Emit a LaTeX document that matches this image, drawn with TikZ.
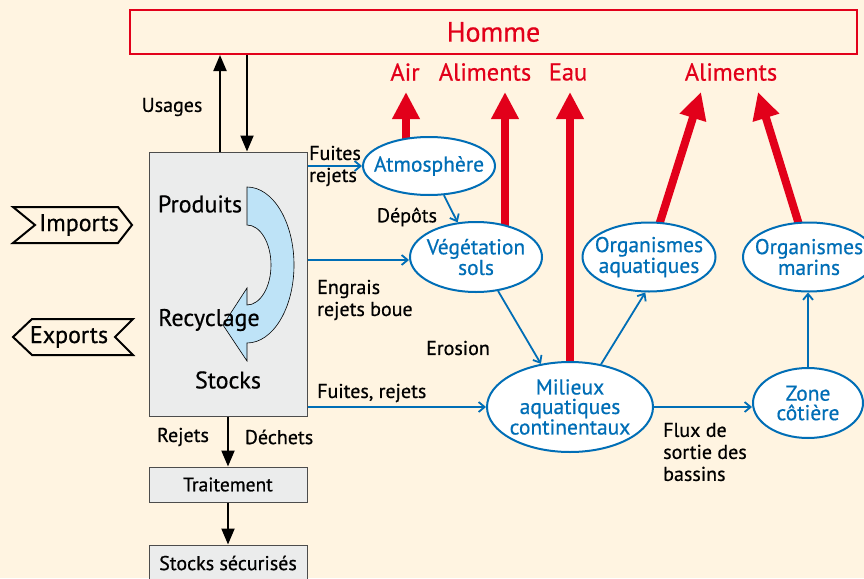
\documentclass[tikz,border=0pt]{standalone}
\usepackage{fontspec}
\setmainfont{PT Sans}[FakeBold=0.6]
\usetikzlibrary{arrows.meta,calc,shapes.geometric}
\definecolor{bgc}{RGB}{255,244,225}
\definecolor{redC}{RGB}{226,0,26}
\definecolor{blueC}{RGB}{0,110,182}
\definecolor{greyC}{RGB}{235,236,236}
\definecolor{lblue}{RGB}{190,227,247}
\pgfdeclarelayer{back}
\pgfdeclarelayer{bg}
\pgfsetlayers{back,bg,main}
\begin{document}
\begin{tikzpicture}[x=1pt,y=-1pt,
  lbl/.style={font=\fontsize{20}{22}\selectfont, text=black, inner sep=0pt, align=left},
  big/.style={font=\fontsize{24}{26}\selectfont, text=black, inner sep=0pt},
  ell/.style={ellipse, draw=blueC, line width=2pt, fill=white, text=blueC,
    font=\fontsize{21.5}{19.5}\selectfont, align=center, inner sep=-30pt},
  rlbl/.style={font=\fontsize{24.5}{26}\selectfont, text=redC, inner sep=0pt},
  barrow/.style={-{Straight Barb[length=6pt,width=10pt]}, draw=blueC, line width=1.8pt},
  karrow/.style={-{Triangle[length=16pt,width=13pt]}, line width=2pt},
  rarrow/.style={-{Triangle[length=27pt,width=26pt]}, draw=redC, line width=8pt},
  gbox/.style={draw=black!70, fill=greyC, line width=1pt, inner sep=0pt,
    font=\fontsize{19.5}{22}\selectfont, minimum width=158pt},
  tag/.style={draw=black, line width=2pt, fill=bgc, line join=miter}
]
\begin{pgfonlayer}{back}
\fill[bgc] (0,0) rectangle (864,578);
\end{pgfonlayer}
\useasboundingbox (0,0) rectangle (864,578);

% Homme
\node[draw=redC, line width=2pt, fill=bgc, minimum width=727pt, minimum height=44pt,
  inner sep=0pt, text=redC, font=\fontsize{28}{30}\selectfont] (homme) at (493.5,32) {Homme};

% red labels
\node[rlbl] (air) at (405,72) {Air};
\node[rlbl] (alim1) at (485,72) {Aliments};
\node[rlbl] (eau) at (568,72) {Eau};
\node[rlbl] (alim2) at (731,72) {Aliments};
\coordinate (tAir) at (406,92);
\coordinate (tAl1) at (505,92);
\coordinate (tEau) at (570,92);
\coordinate (tAl2) at (701,92);
\coordinate (tAl3) at (758,92);

% main box
\node[gbox, minimum height=264pt] (box) at (228,284) {};
\fill[lblue, draw=black, line width=0.6pt]
  (247,187) arc[start angle=-90, end angle=90, x radius=47, y radius=78]
  -- (247,361) -- (223,325) -- (247,288) -- (247,305)
  arc[start angle=90, end angle=-90, x radius=24, y radius=40] -- cycle;
\node[big] (prod) at (200,204) {Produits};
\node[big] (recy) at (209,320) {Recyclage};
\node[big] (stk) at (228,380) {Stocks};

% imports / exports
\draw[tag] (13,207) -- (118,207) -- (132,225) -- (118,243) -- (13,243) -- (35,225) -- cycle;
\node[big] (imp) at (79,225) {Imports};
\draw[tag] (13,337) -- (32,319) -- (133,319) -- (115,337) -- (133,355) -- (32,355) -- cycle;
\node[big] (exp) at (69,337) {Exports};

% lower boxes
\node[gbox, minimum height=35pt] (trait) at (228,484.5) {Traitement};
\node[gbox, minimum height=36pt, font=\fontsize{20}{22}\selectfont] (secu) at (228,563) {Stocks sécurisés};

% ellipses
\node[ell, minimum width=132pt, minimum height=58pt] (atm) at (429,166) {Atmosphère};
\node[ell, minimum width=132pt, minimum height=70pt] (veg) at (476,257) {Végétation\\sols};
\node[ell, minimum width=133pt, minimum height=69pt] (orgaq) at (649,257) {Organismes\\aquatiques};
\node[ell, minimum width=132pt, minimum height=69pt] (orgma) at (809,257) {Organismes\\marins};
\node[ell, minimum width=166pt, minimum height=90pt] (mil) at (570,407) {Milieux\\aquatiques\\continentaux};
\node[ell, minimum width=110pt, minimum height=70pt] (zone) at (808,403) {Zone\\côtière};

% red arrows
\begin{pgfonlayer}{bg}
\draw[rarrow] (atm.center -| tAir) -- (tAir);
\draw[rarrow] (veg.center -| tAl1) -- (tAl1);
\draw[rarrow] (mil.center -| tEau) -- (tEau);
\draw[rarrow] (orgaq.center) -- (tAl2);
\draw[rarrow] (orgma.center) -- (tAl3);
\end{pgfonlayer}

% usages
\coordinate (u1) at (220,0);
\coordinate (u2) at (247,0);
\draw[karrow] (box.north -| u1) -- (homme.south -| u1);
\draw[karrow] (homme.south -| u2) -- (box.north -| u2);
\node[lbl] (usg) at (172,107) {Usages};

% blue connectors
\draw[barrow] (box.east |- atm.west) -- (atm.west);
\node[lbl, anchor=west] (fr1) at (309,166) {Fuites\\rejets};
\draw[barrow] (atm.-63) -- (veg.118);
\node[lbl] (dep) at (407,217) {Dépôts};
\coordinate (e1) at (0,260);
\draw[barrow] (box.east |- e1) -- (veg.west |- e1);
\node[lbl, anchor=west] (eng) at (317,300) {Engrais\\rejets boue};
\draw[barrow] (veg.-57) -- (mil.124);
\node[lbl] (ero) at (458,348) {Erosion};
\draw[barrow] (box.east |- mil.west) -- (mil.west);
\node[lbl, anchor=west] (fr2) at (317,393) {Fuites, rejets};
\draw[barrow] (mil.54) -- (orgaq.-96);
\draw[barrow] (mil.east) -- (zone.west |- mil.east);
\node[lbl, anchor=west] (flux) at (663,452) {Flux de\\sortie des\\bassins};
\draw[barrow] (zone.north) -- (zone.north |- orgma.south);

% black lower arrows
\draw[karrow] (box.south) -- (trait.north);
\node[lbl] (rej) at (183,437) {Rejets};
\node[lbl] (dech) at (279,437) {Déchets};
\draw[karrow] (trait.south) -- (secu.north);
\end{tikzpicture}
\end{document}
